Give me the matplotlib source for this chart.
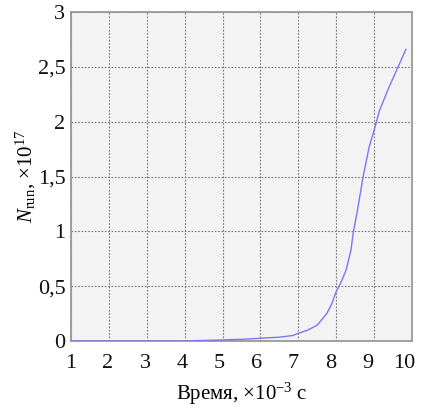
import matplotlib
matplotlib.use("Agg")
import matplotlib.pyplot as plt
from matplotlib.transforms import ScaledTranslation

# время, x1e-3 c
t = [1.0, 2.0, 3.0, 4.0, 5.0, 5.5, 6.0, 6.5, 6.85, 7.0, 7.25, 7.5, 7.75, 7.87,
     8.0, 8.12, 8.26, 8.39, 8.45, 8.56, 8.71, 8.87, 9.0, 9.14, 9.4, 9.62, 9.84]
# N_run, x1e17
n_run = [0.0, 0.0, 0.0, 0.0, 0.01, 0.015, 0.025, 0.035, 0.05, 0.07, 0.1, 0.145, 0.25, 0.33,
         0.45, 0.53, 0.645, 0.83, 0.99, 1.19, 1.5, 1.77, 1.92, 2.1, 2.32, 2.49, 2.66]

xticks = [1, 2, 3, 4, 5, 6, 7, 8, 9, 10]
yticks = [0, 0.5, 1, 1.5, 2, 2.5, 3]
ylabels = ["0", "0,5", "1", "1,5", "2", "2,5", "3"]

plt.rcParams["font.family"] = ["Liberation Serif", "DejaVu Serif"]
plt.rcParams["mathtext.fontset"] = "custom"
plt.rcParams["mathtext.rm"] = "Liberation Serif"
plt.rcParams["mathtext.it"] = "Liberation Serif:italic"

fig = plt.figure(figsize=(4.21, 4.12), dpi=100)
ax = fig.add_axes([0.1686, 0.1723, 0.81, 0.7985])
ax.set_facecolor("#f3f3f3")

ax.plot(t, n_run, color="#7a78f0", lw=1.0, zorder=5)

ax.set_xlim(1, 10)
ax.set_ylim(0, 3)
ax.set_xticks(xticks)
ax.set_yticks(yticks)
ax.set_yticklabels(ylabels)
ax.tick_params(length=0, labelsize=16, colors="#111111")
ax.tick_params(axis="x", pad=9)
ax.tick_params(axis="y", pad=4)

# labels sit a bit left of their gridlines toward the right end
for i, lab in enumerate(ax.get_xticklabels()):
    dx = -min(i, 9) * 0.6 / 72
    lab.set_transform(lab.get_transform() + ScaledTranslation(dx, 0, fig.dpi_scale_trans))

ax.grid(True, color="#777777", linestyle=(0, (1.5, 1.5)), lw=0.8)
for s in ax.spines.values():
    s.set_color("#999999")
    s.set_linewidth(1.3)

ax.set_xlabel("Время, ×10$^{-3}$ с", fontsize=15, labelpad=6)
ax.set_ylabel("$N_{\\mathrm{run}}$, ×10$^{17}$", fontsize=15, labelpad=0)

fig.savefig("out.png", dpi=100)
